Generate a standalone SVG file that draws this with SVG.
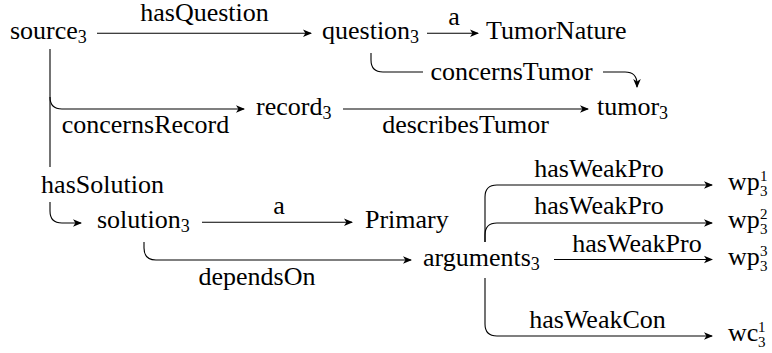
<svg xmlns="http://www.w3.org/2000/svg" width="772" height="353" viewBox="0 0 772 353">
<defs>
<marker id="ah" markerUnits="userSpaceOnUse" viewBox="-10 -5 12 10" refX="0" refY="0" markerWidth="12" markerHeight="10" orient="auto">
<path d="M1,0 L-8,-3.8 L-5.6,0 L-8,3.8 Z" fill="#000"/>
</marker>
</defs>
<rect width="772" height="353" fill="#fff"/>
<g id="connectors" fill="none" stroke="#000" stroke-width="1.1">
<path marker-end="url(#ah)" d="M97,33.3 H311"/>
<path d="M50,49 V167"/>
<path marker-end="url(#ah)" d="M50,97 Q50,109 62,109 H244"/>
<path marker-end="url(#ah)" d="M50,202 V211 Q50,223 62,223 H81"/>
<path marker-end="url(#ah)" d="M427,33.3 H478"/>
<path d="M371,53 V60 Q371,72 383,72 H423"/>
<path marker-end="url(#ah)" d="M603,72 H625 Q637,72 637,84 V87"/>
<path marker-end="url(#ah)" d="M343,109 H588"/>
<path marker-end="url(#ah)" d="M202,222.3 H352"/>
<path marker-end="url(#ah)" d="M144,242 V248 Q144,260 156,260 H411"/>
<path marker-end="url(#ah)" d="M485,242 V197 Q485,185 497,185 H712"/>
<path marker-end="url(#ah)" d="M485,242 V235 Q485,223 497,223 H712"/>
<path marker-end="url(#ah)" d="M554,259.5 H712"/>
<path marker-end="url(#ah)" d="M485,278 V324 Q485,336 497,336 H712"/>
</g>
<g id="edge-labels" font-family="Liberation Serif" font-size="26" fill="#000" text-anchor="middle">
<text font-family="Liberation Serif" x="204.5" y="21">hasQuestion</text>
<text font-family="Liberation Serif" x="454" y="25">a</text>
<text font-family="Liberation Serif" x="511.5" y="80">concernsTumor</text>
<text font-family="Liberation Serif" x="145.5" y="133">concernsRecord</text>
<text font-family="Liberation Serif" x="465.5" y="133">describesTumor</text>
<text font-family="Liberation Serif" x="102.5" y="193">hasSolution</text>
<text font-family="Liberation Serif" x="279" y="214">a</text>
<text font-family="Liberation Serif" x="257" y="285">dependsOn</text>
<text font-family="Liberation Serif" x="599" y="177">hasWeakPro</text>
<text font-family="Liberation Serif" x="599" y="214">hasWeakPro</text>
<text font-family="Liberation Serif" x="637" y="251.5">hasWeakPro</text>
<text font-family="Liberation Serif" x="597.5" y="328">hasWeakCon</text>
</g>
<g id="nodes" font-family="Liberation Serif" font-size="26" fill="#000">
<g id="source3"><text font-family="Liberation Serif" x="10" y="39">source<tspan font-size="18" dy="4">3</tspan></text></g>
<g id="question3"><text font-family="Liberation Serif" x="322" y="39">question<tspan font-size="18" dy="4">3</tspan></text></g>
<g id="TumorNature"><text font-family="Liberation Serif" x="486" y="39">TumorNature</text></g>
<g id="record3"><text font-family="Liberation Serif" x="256" y="115">record<tspan font-size="18" dy="4">3</tspan></text></g>
<g id="tumor3"><text font-family="Liberation Serif" x="597" y="115">tumor<tspan font-size="18" dy="4">3</tspan></text></g>
<g id="solution3"><text font-family="Liberation Serif" x="97" y="228">solution<tspan font-size="18" dy="4">3</tspan></text></g>
<g id="Primary"><text font-family="Liberation Serif" x="365" y="228">Primary</text></g>
<g id="arguments3"><text font-family="Liberation Serif" x="423" y="266">arguments<tspan font-size="18" dy="4">3</tspan></text></g>
<g id="wp31"><text font-family="Liberation Serif" x="728" y="190">wp<tspan font-size="15" x="760" dy="-9.5">1</tspan><tspan font-size="15" x="760" dy="15.5">3</tspan></text></g>
<g id="wp32"><text font-family="Liberation Serif" x="728" y="228">wp<tspan font-size="15" x="760" dy="-9.5">2</tspan><tspan font-size="15" x="760" dy="15.5">3</tspan></text></g>
<g id="wp33"><text font-family="Liberation Serif" x="728" y="265">wp<tspan font-size="15" x="760" dy="-9.5">3</tspan><tspan font-size="15" x="760" dy="15.5">3</tspan></text></g>
<g id="wc31"><text font-family="Liberation Serif" x="728" y="341">wc<tspan font-size="15" x="758" dy="-9.5">1</tspan><tspan font-size="15" x="758" dy="15.5">3</tspan></text></g>
</g>
</svg>
